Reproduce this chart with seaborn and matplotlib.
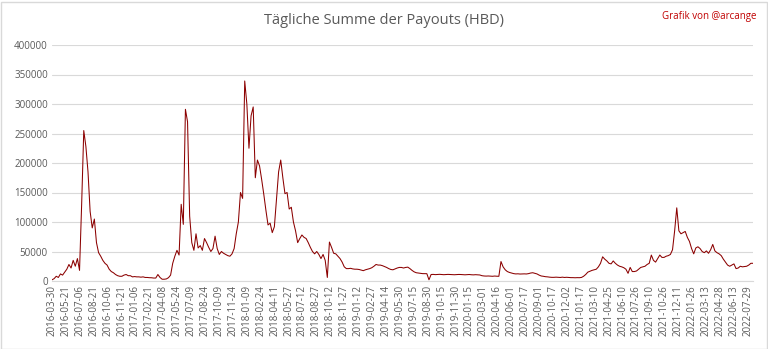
import numpy as np
import pandas as pd
import matplotlib
matplotlib.use("Agg")
import matplotlib.pyplot as plt
import seaborn as sns
from matplotlib.patches import Rectangle

# Weekly samples of the daily payout sum (thousand HBD)
payouts_2016 = [2, 4, 8, 6, 12, 10, 15, 20, 28, 22, 35, 25, 38, 18, 130, 255, 228, 185, 118, 90,
                105, 65, 48, 42, 35, 30, 27, 20, 16, 14, 11, 9, 8, 8, 10, 11, 9, 9]
payouts_2017 = [7, 7.5, 7, 7, 6.5, 7, 6, 6,
                5.6, 5.5, 5, 5, 11, 6, 3, 3, 3.5, 5.6,
                10, 30, 42, 52, 44, 130, 96,
                291, 270, 110, 65, 52, 80, 56,
                60, 52, 72, 65, 57, 50, 55, 76, 55, 45,
                50, 47, 45, 43, 42, 46, 55, 80, 100, 150, 140, 339]
payouts_2018 = [300, 225, 280, 295, 175, 205, 195, 172,
                147, 120, 95, 98, 82, 92, 138, 185, 205, 175,
                148, 150, 122, 125, 100, 85, 65, 72, 78, 74,
                72, 65, 57, 50, 46, 50, 45, 38, 45, 35,
                6, 66, 57, 47]
payouts_2019 = [46, 42, 38, 32, 24, 21, 21, 21.5, 20.5, 20,
                20, 19.5, 18.5, 17.5, 19, 20, 21, 22.5, 25, 28, 27,
                27, 26, 24.5, 23, 21, 19.5, 19, 20.5, 22, 23,
                23, 22, 23, 23.5, 21, 18, 15.5, 14, 13.5, 13,
                12.5, 12.4, 12.4, 2,
                11, 11.2, 10.8, 11, 11.3, 11, 10.7, 10.9, 11.2, 11, 10.8, 10.6,
                10.9, 11.1, 11, 10.7, 10.5, 10.8, 11, 10.6, 10.4, 10.7, 10.5, 10.2,
                9, 8.5, 8.3, 8.5, 8.2, 8, 8.4, 8.1, 8]
payouts_2020 = [33, 24, 19, 16, 14.5, 13.5, 12.5, 12, 12.2, 11.8, 12, 12.1, 11.9, 12.5,
                13.5, 14, 13, 12, 10, 8.5, 8, 7.3, 7, 6.5, 6.2,
                6.2, 6.5, 6.2, 6, 6.5, 6, 6.3, 6, 5.7, 5.7, 5.5, 5.7, 5.6, 6, 8, 11, 15]
payouts_2021 = [16.5, 18, 19, 20, 24, 30, 41, 37, 34, 30,
                29, 34, 30, 27, 25, 24, 22.5, 20, 13, 23,
                16, 16, 17, 20, 23, 24, 25, 28, 30, 44,
                35, 32, 38, 44, 40, 40, 42, 43, 45, 53,
                85, 124, 85, 80, 82, 84, 74, 67, 55, 46]
payouts_2022 = [56, 58, 55, 50, 48, 51, 47, 53, 62, 51,
                48, 46, 43, 37, 32, 27, 25, 27, 29, 21,
                22, 25, 24, 24.5, 25, 27, 30, 30]

tick_labels = ["2016-03-30", "2016-05-21", "2016-07-06", "2016-08-21", "2016-10-06", "2016-11-21",
               "2017-01-06", "2017-02-21", "2017-04-08", "2017-05-24", "2017-07-09", "2017-08-24",
               "2017-10-09", "2017-11-24", "2018-01-09", "2018-02-24", "2018-04-11", "2018-05-27",
               "2018-07-12", "2018-08-27", "2018-10-12", "2018-11-27", "2019-01-12", "2019-02-27",
               "2019-04-14", "2019-05-30", "2019-07-15", "2019-08-30", "2019-10-15", "2019-11-30",
               "2020-01-15", "2020-03-01", "2020-04-16", "2020-06-01", "2020-07-17", "2020-09-01",
               "2020-10-17", "2020-12-02", "2021-01-17", "2021-03-10", "2021-04-25", "2021-06-10",
               "2021-07-26", "2021-09-10", "2021-10-26", "2021-12-11", "2022-01-26", "2022-03-13",
               "2022-04-28", "2022-06-13", "2022-07-29"]
y_ticks = [0, 50000, 100000, 150000, 200000, 250000, 300000, 350000, 400000]

values = np.array(payouts_2016 + payouts_2017 + payouts_2018 + payouts_2019 +
                  payouts_2020 + payouts_2021 + payouts_2022) * 1000
days = np.arange(len(values)) * 7
df = pd.DataFrame({"day": days, "payout": values})

sns.set_theme(style="white")
plt.rcParams["font.family"] = ["Open Sans", "DejaVu Sans"]

fig = plt.figure(figsize=(7.68, 3.49), dpi=100)
ax = fig.add_axes([52 / 768, 1 - 281 / 349, (753 - 52) / 768, (281 - 45) / 349])

sns.lineplot(data=df, x="day", y="payout", ax=ax, color="#8b0000", linewidth=0.75)

ax.set_xlim(0, days[-1])
ax.set_ylim(0, 400000)
ax.set_xticks(np.arange(len(tick_labels)) * 46)
ax.set_xticklabels(tick_labels, rotation=90, fontsize=7, color="#595959")
ax.set_yticks(y_ticks)
ax.set_yticklabels([str(v) for v in y_ticks], fontsize=7, color="#595959")
ax.tick_params(axis="both", length=0, pad=3)
ax.set_xlabel("")
ax.set_ylabel("")
ax.grid(axis="y", color="#d9d9d9", linewidth=0.8)
ax.grid(axis="x", visible=False)
for s in ["left", "right", "top"]:
    ax.spines[s].set_visible(False)
ax.spines["bottom"].set_color("#d9d9d9")
ax.spines["bottom"].set_linewidth(0.8)

fig.text(0.5, 1 - 20 / 349, "Tägliche Summe der Payouts (HBD)", ha="center", va="center",
         fontsize=10.5, color="#595959")
fig.text(757 / 768, 1 - 17 / 349, "Grafik von @arcange", ha="right", va="center",
         fontsize=7, color="#c00000")

fig.patches.append(Rectangle((0.5 / 768, 0.5 / 349), 1 - 2 / 768, 1 - 2 / 349,
                             transform=fig.transFigure, fill=False,
                             edgecolor="#d9d9d9", linewidth=1))

fig.savefig("out.png", dpi=100, facecolor="white")
